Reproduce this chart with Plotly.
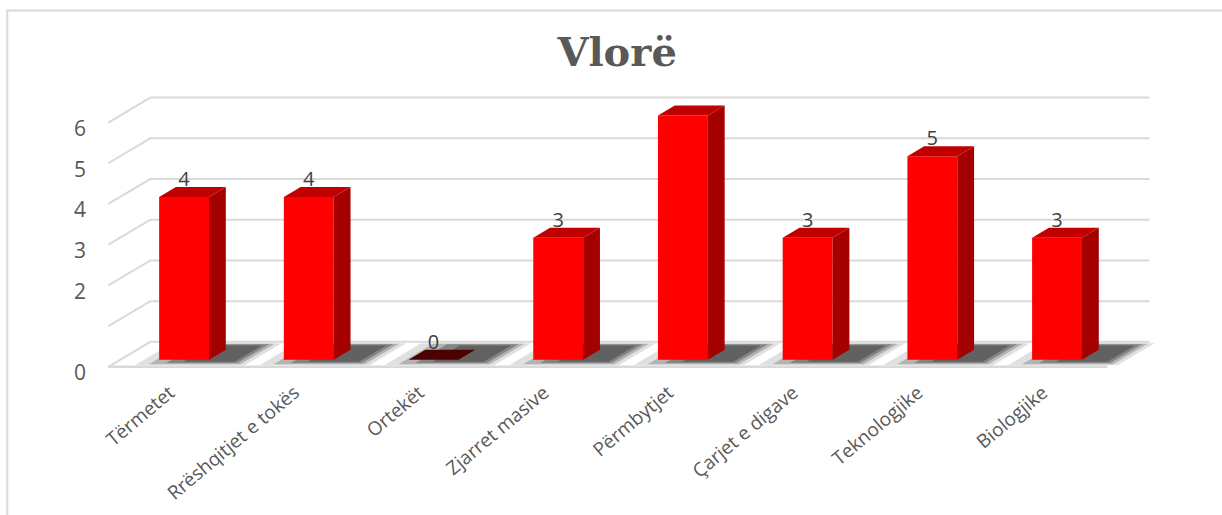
import plotly.graph_objects as go

# ---------------- data ----------------
categories = ["Tërmetet", "Rrëshqitjet e tokës", "Ortekët", "Zjarret masive",
              "Përmbytjet", "Çarjet e digave", "Teknologjike", "Biologjike"]
values = [4, 4, 0, 3, 6, 3, 5, 3]
label_text = ["4", "4", "0", "3", "", "3", "5", "3"]
grid_values = [0, 1, 2, 3, 4, 5, 6]
tick_values = [0, 2, 3, 4, 5, 6]
title_text = "Vlorë"

# ---------------- geometry / style ----------------
W, H = 1222, 515
PX_X, PX_Y = 124.7, 40.8          # pixels per category / per value unit
X0_PX, Y0_PX = 172, 367           # pixel of category 0 / value 0 on front floor edge
XR = [-0.66, 8.0]
YR = [-0.25, 6.75]
DX, DY = 42 / PX_X, 25 / PX_Y     # full depth offset of the floor/walls
F_FRONT, F_DEPTH = 0.28, 0.40     # bar front depth fraction, bar depth fraction
HALF_W = 0.2
FLOOR_L, FLOOR_R = -0.513, 7.498

left = X0_PX + XR[0] * PX_X
right = X0_PX + XR[1] * PX_X
top = Y0_PX - YR[1] * PX_Y
bottom = Y0_PX - YR[0] * PX_Y

GRID = "#d9d9d9"
TXT = "#595959"
FRONT = "#ff0000"
SIDE = "#a50000"
TOPC = "#c00000"
ZERO_TOP = "#4d0000"

fig = go.Figure()

# gridlines: back wall + left wall diagonals
gx, gy = [], []
for v in grid_values:
    gx += [FLOOR_L, FLOOR_L + DX, FLOOR_R + DX, None]
    gy += [v, v + DY, v + DY, None]
fig.add_trace(go.Scatter(x=gx, y=gy, mode="lines", line=dict(color=GRID, width=2),
                         hoverinfo="skip", showlegend=False))

# shadows on floor (layered to imitate a soft blur)
for (a, b, op, t0, t1) in [(-0.32, 0.56, 0.15, 0.06, 0.94), (-0.22, 0.51, 0.25, 0.1, 0.92),
                           (-0.10, 0.47, 0.35, 0.15, 0.9), (0.02, 0.43, 0.4, 0.2, 0.85)]:
    sx, sy = [], []
    for i, v in enumerate(values):
        pts = [(i + a + t0 * DX, t0 * DY), (i + b + t0 * DX, t0 * DY),
               (i + b + t1 * DX, t1 * DY), (i + a + t1 * DX, t1 * DY)]
        sx += [p[0] for p in pts] + [pts[0][0], None]
        sy += [p[1] for p in pts] + [pts[0][1], None]
    fig.add_trace(go.Scatter(x=sx, y=sy, mode="lines", fill="toself",
                             fillcolor=f"rgba(45,45,45,{op})", line=dict(width=0),
                             hoverinfo="skip", showlegend=False))

# floor front edge
fig.add_trace(go.Scatter(x=[FLOOR_L, FLOOR_R], y=[0, 0], mode="lines",
                         line=dict(color=GRID, width=2.5), hoverinfo="skip", showlegend=False))

# bars
fx, fy, sx, sy, tx, ty, zx, zy = [], [], [], [], [], [], [], []
lx, ly = [], []
for i, v in enumerate(values):
    cx = i + F_FRONT * DX
    b = F_FRONT * DY
    xl, xr_ = cx - HALF_W, cx + HALF_W
    ddx, ddy = F_DEPTH * DX, F_DEPTH * DY
    if v > 0:
        fx += [xl, xr_, xr_, xl, xl, None]
        fy += [b, b, b + v, b + v, b, None]
        sx += [xr_, xr_ + ddx, xr_ + ddx, xr_, xr_, None]
        sy += [b, b + ddy, b + v + ddy, b + v, b, None]
        tx += [xl, xr_, xr_ + ddx, xl + ddx, xl, None]
        ty += [b + v, b + v, b + v + ddy, b + v + ddy, b + v, None]
    else:
        zx += [xl, xr_, xr_ + ddx, xl + ddx, xl, None]
        zy += [b, b, b + ddy, b + ddy, b, None]
    lx.append(cx)
    ly.append(b + v + 0.39)

for xs, ys, col in [(fx, fy, FRONT), (sx, sy, SIDE), (tx, ty, TOPC), (zx, zy, ZERO_TOP)]:
    fig.add_trace(go.Scatter(x=xs, y=ys, mode="lines", fill="toself", fillcolor=col,
                             line=dict(width=0, color=col), hoverinfo="skip", showlegend=False))

# data labels
fig.add_trace(go.Scatter(x=lx, y=ly, mode="text", text=label_text, textposition="middle center",
                         textfont=dict(family="Open Sans", size=20, color="#404040"),
                         hoverinfo="skip", showlegend=False, cliponaxis=False))

# chart frame
fx0 = (7 - left) / (right - left)
fx1 = (1240 - left) / (right - left)
fy1 = (bottom - 10) / (bottom - top)
fy0 = (bottom - 540) / (bottom - top)
fig.add_shape(type="rect", xref="paper", yref="paper", x0=fx0, x1=fx1, y0=fy0, y1=fy1,
              line=dict(color=GRID, width=2), layer="below")

fig.update_layout(
    width=W, height=H,
    margin=dict(l=left, r=W - right, t=top, b=H - bottom, pad=0, autoexpand=False),
    paper_bgcolor="white", plot_bgcolor="white",
    title=dict(text=f"<b>{title_text}</b>", x=0.505, xanchor="center", y=1 - 52 / H, yanchor="middle",
               yref="container", font=dict(family="DejaVu Serif", size=40, color=TXT)),
    xaxis=dict(range=XR, showgrid=False, zeroline=False, showline=False, automargin=False,
               tickmode="array", tickvals=[i - 0.02 for i in range(len(categories))],
               ticktext=categories, tickangle=-40,
               tickfont=dict(family="Open Sans", size=19, color=TXT)),
    yaxis=dict(range=YR, showgrid=False, zeroline=False, showline=False, automargin=False,
               tickmode="array", tickvals=tick_values, ticktext=[str(t) for t in tick_values],
               ticklabelshift=6, ticklabelstandoff=3,
               tickfont=dict(family="Open Sans", size=21, color=TXT)),
    showlegend=False,
)

fig.write_html("out.html", post_script="document.body.style.margin='0px';",
               config={"displayModeBar": False})
